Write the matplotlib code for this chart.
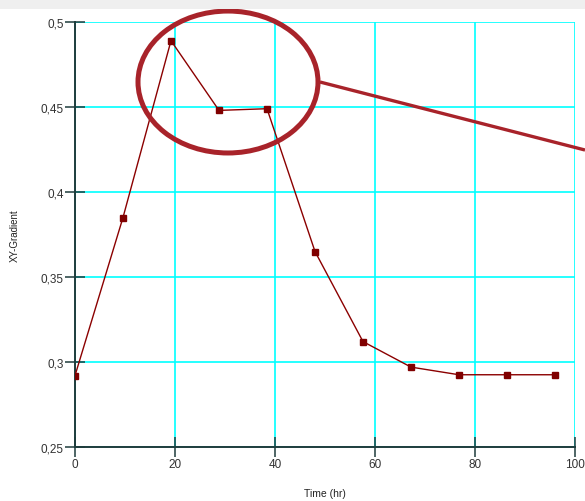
import matplotlib
matplotlib.use("Agg")
import matplotlib.pyplot as plt
from matplotlib.patches import Ellipse, Rectangle
from matplotlib.ticker import FuncFormatter

# data
time_hr = [0, 9.6, 19.2, 28.8, 38.4, 48, 57.6, 67.2, 76.8, 86.4, 96]
xy_gradient = [0.292, 0.385, 0.489, 0.448, 0.449, 0.365, 0.312, 0.297, 0.2925, 0.2925, 0.2925]
x_ticks = [0, 20, 40, 60, 80, 100]
y_ticks = [0.25, 0.3, 0.35, 0.4, 0.45, 0.5]

plt.rcParams['font.family'] = ['Liberation Sans', 'DejaVu Sans']

fig = plt.figure(figsize=(5.85, 5.02), dpi=100)
fig.patches.append(Rectangle((0, 1 - 10 / 502), 1, 10 / 502, transform=fig.transFigure,
                             facecolor='#efefef', edgecolor='none', zorder=0))
ax = fig.add_axes([75 / 585, 1 - 448 / 502, 500 / 585, 425 / 502])

ax.plot(time_hr, xy_gradient, color='#8b0000', lw=1, marker='s', ms=5,
        mfc='#800000', mec='#800000', zorder=3)

ax.set_xlim(0, 100)
ax.set_ylim(0.25, 0.5)
ax.set_xticks(x_ticks)
ax.set_yticks(y_ticks)
ax.yaxis.set_major_formatter(FuncFormatter(lambda v, p: ('%g' % v).replace('.', ',')))
ax.grid(True, color='#00ffff', lw=1.2, zorder=0)
ax.set_axisbelow(True)

for s in ['top', 'right']:
    ax.spines[s].set_visible(False)
for s in ['left', 'bottom']:
    ax.spines[s].set_color('#1e3c3c')
    ax.spines[s].set_linewidth(1.4)
ax.tick_params(direction='inout', length=14, width=1.1, color='#1e3c3c',
               labelsize=8.5, labelcolor='#333333', pad=1)

ax.set_xlabel('Time (hr)', fontsize=7.5, color='#222222', labelpad=13)
ax.set_ylabel('XY-Gradient', fontsize=7, color='#222222', labelpad=15)

# callout ellipse and pointer line
ell = Ellipse((30.6, 0.4647), 36, 0.0835, fill=False, edgecolor='#a8232a', lw=3.6,
              clip_on=False, zorder=4)
ax.add_patch(ell)
ax.plot([49, 102], [0.4647, 0.4247], color='#a8232a', lw=2.4, clip_on=False, zorder=4,
        solid_capstyle='butt')

fig.savefig('out.png', dpi=100)
